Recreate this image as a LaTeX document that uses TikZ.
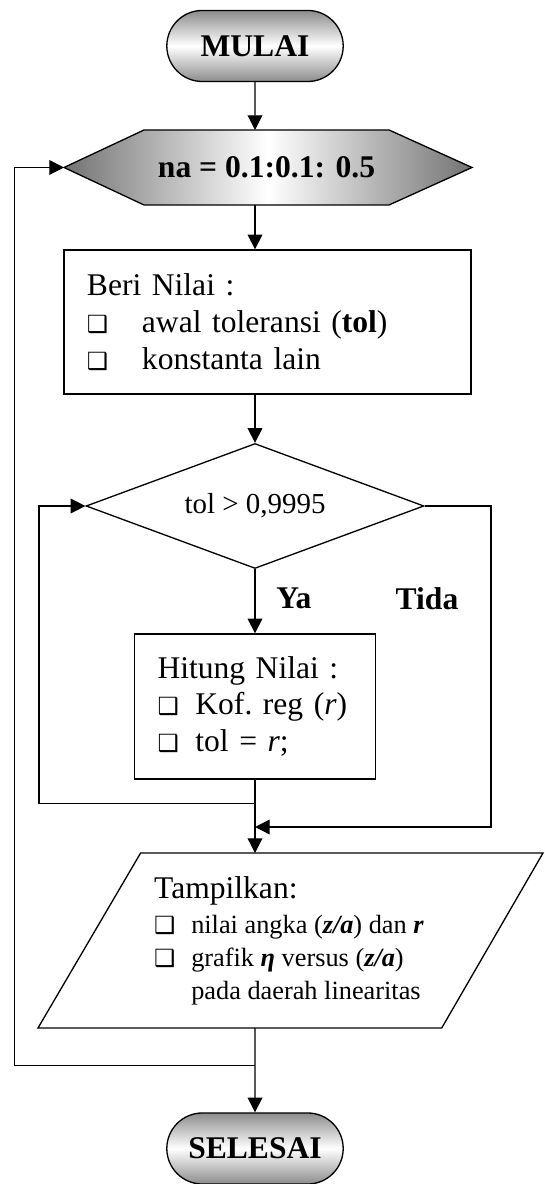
\documentclass[tikz,border=0pt]{standalone}
\usepackage{fontspec}
\setmainfont{Liberation Serif}
\newfontfamily\symfont{DejaVu Sans}
\usetikzlibrary{shapes.geometric,shapes.misc,arrows.meta}
\newcommand{\fsz}{\fontsize{12}{14}\selectfont}
\newcommand{\kotak}{{\symfont\fontsize{9}{9}\selectfont ❑}}
\tikzset{
  garis/.style={line width=0.5pt},
  panah/.style={garis,-{Triangle[length=5.6pt,width=5.6pt]}},
  terminal/.style={rounded rectangle,draw,garis,minimum width=73.7pt,minimum height=27pt,
    top color=black!45,bottom color=black!45,middle color=white,font=\fsz\bfseries},
  proses/.style={rectangle,draw,garis,align=left,inner xsep=8.7pt,font=\fsz},
  label/.style={font=\fsz\bfseries}
}
\begin{document}
\begin{tikzpicture}[x=0.38pt,y=-0.38pt]
                  \useasboundingbox (0,0) rectangle (544,1184);
                  \node[terminal] (mulai) at (255,46) {MULAI};
                  \shadedraw[garis,left color=black!55,right color=black!55,middle color=white]
                      (64,167.5) -- (144,130) -- (389,130) -- (472,167.5) -- (389,205) -- (144,205) -- cycle;
                  \node[label] (ulang) at (266.5,167.5) {na = 0.1:0.1: 0.5};
                  \coordinate (ulangW) at (64,167.5);
                  \coordinate (ulangN) at (255,130);
                  \coordinate (ulangS) at (255,205);
                  \node[proses,minimum width=154.7pt,minimum height=54.7pt,text width=137.2pt] (beri) at (267.5,322)
                      {\baselineskip=14.1pt Beri Nilai :\\
                       \makebox[20.9pt][l]{\kotak}awal toleransi (\textbf{tol})\\
                       \makebox[20.9pt][l]{\kotak}konstanta lain};
                  \node[diamond,draw,garis,aspect=2.7,inner sep=0pt,minimum width=128.4pt,
                      minimum height=47.5pt,font=\fontsize{11}{13}\selectfont] (cek) at (255,506)
                      {\raisebox{2pt}{tol > 0,9995}};
                  \node[proses,minimum width=91.6pt,minimum height=55.1pt,text width=74.1pt] (hitung) at (255,706.5)
                      {\baselineskip=13.9pt Hitung Nilai :\\
                       \makebox[14.4pt][l]{\kotak}Kof.\ reg (\textit{r})\\
                       \makebox[14.4pt][l]{\kotak}tol = \textit{r};};
                  \draw[garis] (140.6,853) -- (543,853) -- (441.7,1028) -- (38,1028) -- cycle;
                  \node[align=left,font=\fontsize{10}{12.5}\selectfont] (tampil) at (289,940.5)
                      {{\fsz Tampilkan:}\\[0.8pt]
                       \makebox[14.1pt][l]{\kotak}nilai angka (\textbf{\textit{z/a}}) dan \textbf{\textit{r}}\\
                       \makebox[14.1pt][l]{\kotak}grafik \textbf{\textit{η}} versus (\textbf{\textit{z/a}})\\
                       \hspace*{14.1pt}pada daerah linearitas};
                  \coordinate (tampilN) at (255,853);
                  \coordinate (tampilS) at (255,1028);
                  \node[terminal] (selesai) at (255,1148.5) {SELESAI};
                  \node[label] (tida) at (427,599) {Tida};
                  \coordinate (kanan) at (491,827);
                  \coordinate (kiri) at (39,803.6);
                  \coordinate (luar) at (14.6,1065.7);
                  \draw[panah] (mulai) -- (ulangN);
                  \draw[panah] (ulangS) -- (ulangS |- beri.north);
                  \draw[panah] (beri.south -| mulai) -- (cek.north);
                  \draw[panah] (cek) -- node[label,pos=0.45,anchor=west,xshift=4.5pt] (ya) {Ya} (hitung);
                  \draw[panah] (cek.east) -| (kanan) -- (kanan -| mulai);
                  \draw[panah] (kiri -| hitung) -- (kiri) |- (cek.west);
                  \draw[panah] (hitung) -- (tampilN);
                  \draw[panah] (tampilS) -- (selesai);
                  \draw[panah] (luar -| selesai) -- (luar) |- (ulangW);
              \end{tikzpicture}
\end{document}
